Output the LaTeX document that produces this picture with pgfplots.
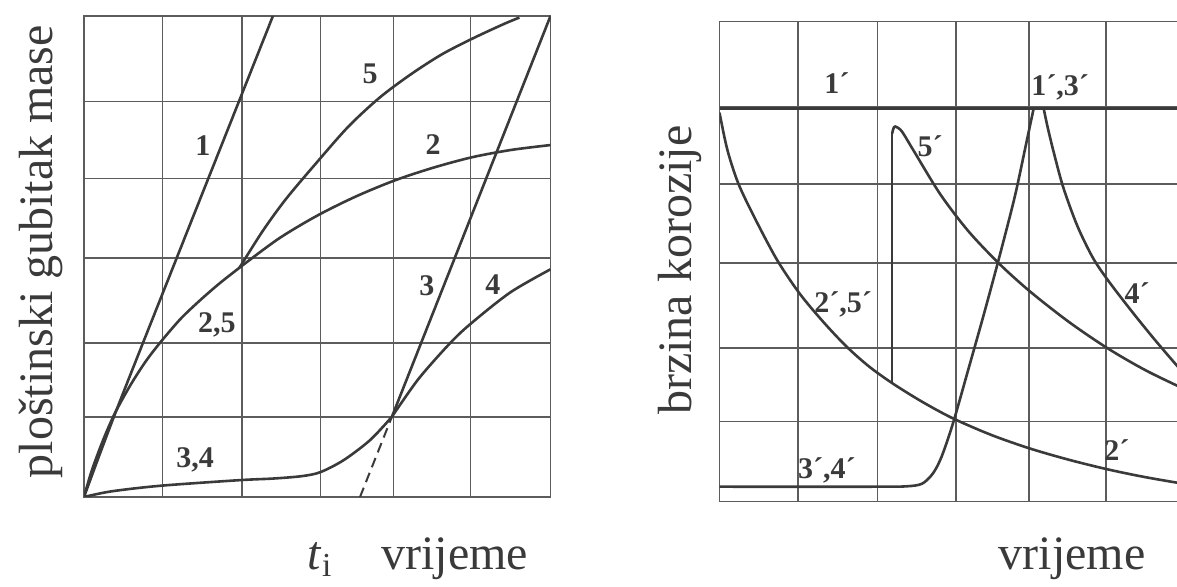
\documentclass[border=0pt]{standalone}
\usepackage{fontspec}
\setmainfont{Liberation Serif}
\usepackage{pgfplots}
\pgfplotsset{compat=1.18}

\definecolor{ink}{HTML}{3A3A3A}
\definecolor{gridc}{HTML}{5C5C5C}

\tikzset{
  lab/.style={font=\fontsize{15}{18}\selectfont\bfseries, text=ink},
  big/.style={font=\fontsize{24}{28}\selectfont, text=ink},
}

% same squared paper for both panels (rows/columns)
\pgfplotsset{
  paper/.style={
    scale only axis, width=233.25pt,
    xmin=0, xmax=6, ymin=0, ymax=6,
    xtick={1.01,2.03,3.04,3.98,4.97},
    ytick={1,1.92,2.98,3.97,4.93},
    xticklabels={}, yticklabels={},
    major tick length=0pt,
    grid=major,
    major grid style={gridc, line width=0.7pt},
    axis line style={gridc, line width=0.8pt},
    clip mode=individual,
    every axis plot/.append style={ink, line width=1.3pt},
    every axis label/.append style={font=\fontsize{24}{28}\selectfont, text=ink},
  },
}

\begin{document}
\begin{tikzpicture}

% ---- left: plostinski gubitak mase
\begin{axis}[paper, height=240.5pt, at={(42pt,45pt)}, anchor=south west,
  ylabel={ploštinski gubitak mase},
  ylabel style={at={(axis description cs:-0.092,0.51)}, anchor=center}]

% 1
\addplot[smooth] coordinates {(0,0) (0.4,1.04) (1.2,3.0) (2.43,6.0)};
% 2,5 (common part)
\addplot[smooth] coordinates {(0,0) (0.1,0.33) (0.25,0.72) (0.4,1.05) (0.6,1.40) (0.8,1.70) (1.0,1.95) (1.25,2.23) (1.5,2.46) (1.75,2.67) (2.0,2.86)};
% 2
\addplot[smooth] coordinates {(2.0,2.86) (2.5,3.22) (3.0,3.51) (3.5,3.75) (4.0,3.95) (4.5,4.11) (5.0,4.24) (5.5,4.33) (6,4.39)};
% 5
\addplot[smooth] coordinates {(2.0,2.86) (2.3,3.32) (2.6,3.72) (3.0,4.18) (3.4,4.62) (3.8,4.98) (4.2,5.27) (4.6,5.52) (5.0,5.72) (5.4,5.90) (5.6,5.98)};
% 3,4 (common part)
\addplot[smooth] coordinates {(0,0) (0.35,0.07) (0.98,0.14) (2.0,0.21) (2.43,0.23) (2.8,0.26) (3.04,0.31) (3.34,0.46) (3.68,0.71) (3.96,1.0)};
% 3
\addplot[sharp plot] coordinates {(3.96,1.0) (6.0,6.0)};
% 4
\addplot[smooth] coordinates {(3.96,1.0) (4.3,1.47) (4.69,1.9) (4.96,2.15) (5.48,2.55) (6,2.84)};
% tangent of 3 down to t_i
\addplot[line width=1pt, dash pattern=on 5pt off 3pt] coordinates {(3.55,0) (3.96,1.0)};

\node[lab] at (axis cs:1.53,4.38) {1};
\node[lab] at (axis cs:3.68,5.28) {5};
\node[lab] at (axis cs:4.49,4.40) {2};
\node[lab] at (axis cs:1.71,2.15) {2,5};
\node[lab] at (axis cs:1.43,0.46) {3,4};
\node[lab] at (axis cs:4.41,2.63) {3};
\node[lab] at (axis cs:5.26,2.65) {4};

\node[big, anchor=base] at (axis description cs:0.506,-0.15) {\textit{t}\textsubscript{i}};
\node[big, anchor=base] at (axis description cs:0.795,-0.15) {vrijeme};
\end{axis}

% ---- right: brzina korozije (cut at the right edge like the scan)
\begin{axis}[paper, height=240pt, at={(359.75pt,42.75pt)}, anchor=south west,
  ylabel={brzina korozije},
  ylabel style={at={(axis description cs:-0.085,0.482)}, anchor=center}]

% 1'
\addplot[sharp plot] coordinates {(0,4.91) (6,4.91)};
% 2',5' and 2'
\addplot[smooth] coordinates {(0,4.86) (0.1,4.40) (0.24,3.98) (0.45,3.55) (0.74,3.02) (1.03,2.60) (1.33,2.25) (1.63,1.94) (1.92,1.69) (2.22,1.48) (2.6,1.25) (3.0,1.04) (3.5,0.83) (4.0,0.66) (4.5,0.52) (5.0,0.40) (5.5,0.30) (6.1,0.20)};
% 5' jump
\addplot[sharp plot] coordinates {(2.22,1.48) (2.22,4.6)};
% 5'
\addplot[smooth] coordinates {(2.22,4.6) (2.245,4.68) (2.28,4.68) (2.35,4.62) (2.5,4.38) (2.84,3.84) (3.2,3.38) (3.6,2.97) (4.0,2.62) (4.5,2.24) (5.0,1.91) (5.5,1.63) (6.1,1.35)};
% 3',4' and 3'
\addplot[smooth] coordinates {(0,0.185) (2.0,0.185) (2.41,0.19) (2.6,0.22) (2.72,0.32) (2.8,0.44) (2.88,0.62) (3.01,1.0) (3.2,1.65) (3.4,2.34) (3.6,3.06) (3.8,3.82) (3.95,4.5) (4.04,4.91)};
% 4'
\addplot[smooth] coordinates {(4.17,4.91) (4.22,4.68) (4.3,4.36) (4.42,3.93) (4.6,3.45) (4.8,3.05) (5.0,2.76) (5.3,2.38) (5.6,2.02) (5.9,1.68) (6.1,1.47)};

\node[lab] at (axis cs:1.51,5.23) {1´};
\node[lab] at (axis cs:4.38,5.17) {1´,3´};
\node[lab] at (axis cs:2.71,4.44) {5´};
\node[lab] at (axis cs:1.59,2.46) {2´,5´};
\node[lab] at (axis cs:1.38,0.39) {3´,4´};
\node[lab] at (axis cs:5.37,2.60) {4´};
\node[lab] at (axis cs:5.11,0.64) {2´};

\node[big, anchor=base] at (axis description cs:0.756,-0.141) {vrijeme};
\end{axis}

\pgfresetboundingbox
\useasboundingbox (0,0) rectangle (588.5pt,293.5pt);
\end{tikzpicture}
\end{document}
